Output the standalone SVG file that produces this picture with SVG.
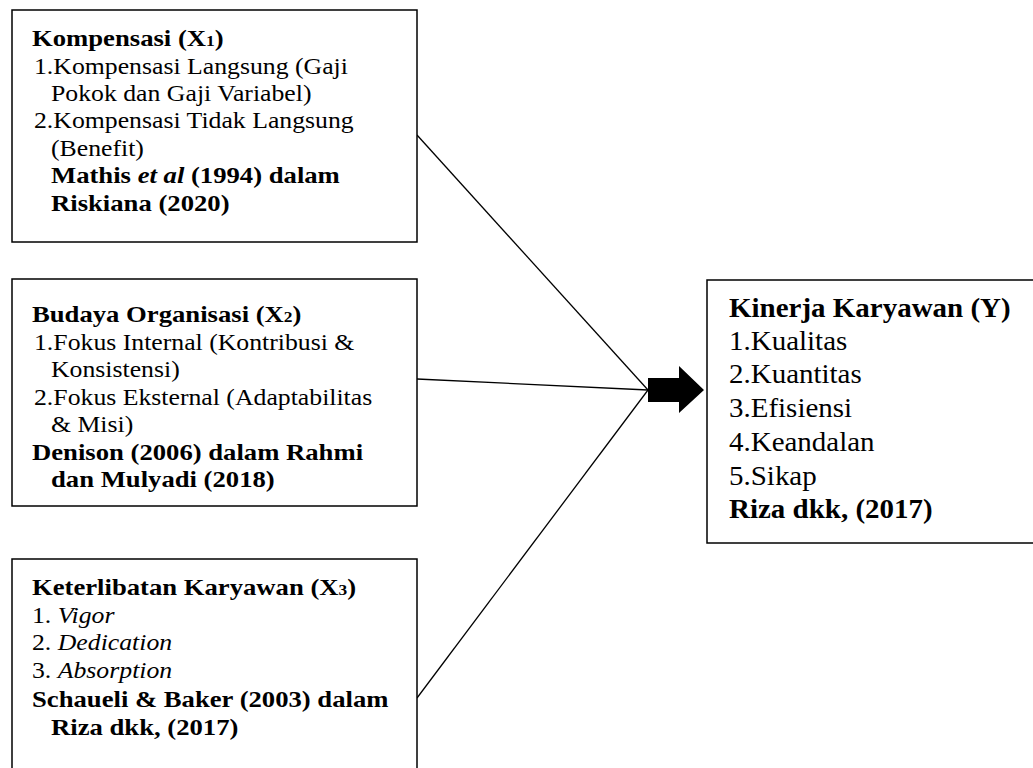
<svg xmlns="http://www.w3.org/2000/svg" width="1033" height="768" viewBox="0 0 1033 768">
<style>
.box{fill:#fff;stroke:#000;stroke-width:1.5}
.t{font-family:"Liberation Serif","Times New Roman",serif;font-size:23px;fill:#000}
.ty{font-family:"Liberation Serif","Times New Roman",serif;font-size:28px;fill:#000}
.b{font-weight:bold}
.i{font-style:italic}
.con{stroke:#000;stroke-width:1.3;fill:none}
</style>
<rect width="1033" height="768" fill="#fff"/>
<g id="connectors">
<line class="con" x1="417" y1="135" x2="648" y2="390"/>
<line class="con" x1="417" y1="379" x2="648" y2="390"/>
<line class="con" x1="417" y1="698" x2="648" y2="390"/>
<polygon points="648,378 679,378 679,366 704,390 679,413 679,402 648,402" fill="#000"/>
</g>
<g id="x1">
<rect class="box" x="12" y="10" width="405" height="232"/>
<text class="t b" transform="translate(32 46) scale(1.16 1)">Kompensasi (X<tspan font-size="15">1</tspan>)</text>
<text class="t" transform="translate(34 74) scale(1.12 1)">1.Kompensasi Langsung (Gaji</text>
<text class="t" transform="translate(51 101) scale(1.12 1)">Pokok dan Gaji Variabel)</text>
<text class="t" transform="translate(34 128) scale(1.12 1)">2.Kompensasi Tidak Langsung</text>
<text class="t" transform="translate(51 156) scale(1.12 1)">(Benefit)</text>
<text class="t b" transform="translate(51 183) scale(1.16 1)">Mathis <tspan class="i">et al</tspan> (1994) dalam</text>
<text class="t b" transform="translate(51 211) scale(1.16 1)">Riskiana (2020)</text>
</g>
<g id="x2">
<rect class="box" x="12" y="279" width="405" height="227"/>
<text class="t b" transform="translate(32 322) scale(1.16 1)">Budaya Organisasi (X<tspan font-size="15">2</tspan>)</text>
<text class="t" transform="translate(34 350) scale(1.12 1)">1.Fokus Internal (Kontribusi &amp;</text>
<text class="t" transform="translate(51 377) scale(1.12 1)">Konsistensi)</text>
<text class="t" transform="translate(34 405) scale(1.12 1)">2.Fokus Eksternal (Adaptabilitas</text>
<text class="t" transform="translate(51 432) scale(1.12 1)">&amp; Misi)</text>
<text class="t b" transform="translate(32 460) scale(1.16 1)">Denison (2006) dalam Rahmi</text>
<text class="t b" transform="translate(51 487) scale(1.16 1)">dan Mulyadi (2018)</text>
</g>
<g id="x3">
<rect class="box" x="12" y="559" width="405" height="220"/>
<text class="t b" transform="translate(32 595) scale(1.16 1)">Keterlibatan Karyawan (X<tspan font-size="15">3</tspan>)</text>
<text class="t" transform="translate(32 623) scale(1.12 1)">1. <tspan class="i">Vigor</tspan></text>
<text class="t" transform="translate(32 650) scale(1.12 1)">2. <tspan class="i">Dedication</tspan></text>
<text class="t" transform="translate(32 678) scale(1.12 1)">3. <tspan class="i">Absorption</tspan></text>
<text class="t b" transform="translate(32 707) scale(1.16 1)">Schaueli &amp; Baker (2003) dalam</text>
<text class="t b" transform="translate(51 735) scale(1.16 1)">Riza dkk, (2017)</text>
</g>
<g id="y">
<rect class="box" x="707" y="280" width="340" height="263"/>
<text class="ty b" transform="translate(729 317) scale(1.035 1)">Kinerja Karyawan (Y)</text>
<text class="ty" transform="translate(729 350) scale(1.035 1)">1.Kualitas</text>
<text class="ty" transform="translate(729 383) scale(1.035 1)">2.Kuantitas</text>
<text class="ty" transform="translate(729 417) scale(1.035 1)">3.Efisiensi</text>
<text class="ty" transform="translate(729 451) scale(1.035 1)">4.Keandalan</text>
<text class="ty" transform="translate(729 485) scale(1.035 1)">5.Sikap</text>
<text class="ty b" transform="translate(729 518) scale(1.035 1)">Riza dkk, (2017)</text>
</g>
</svg>
